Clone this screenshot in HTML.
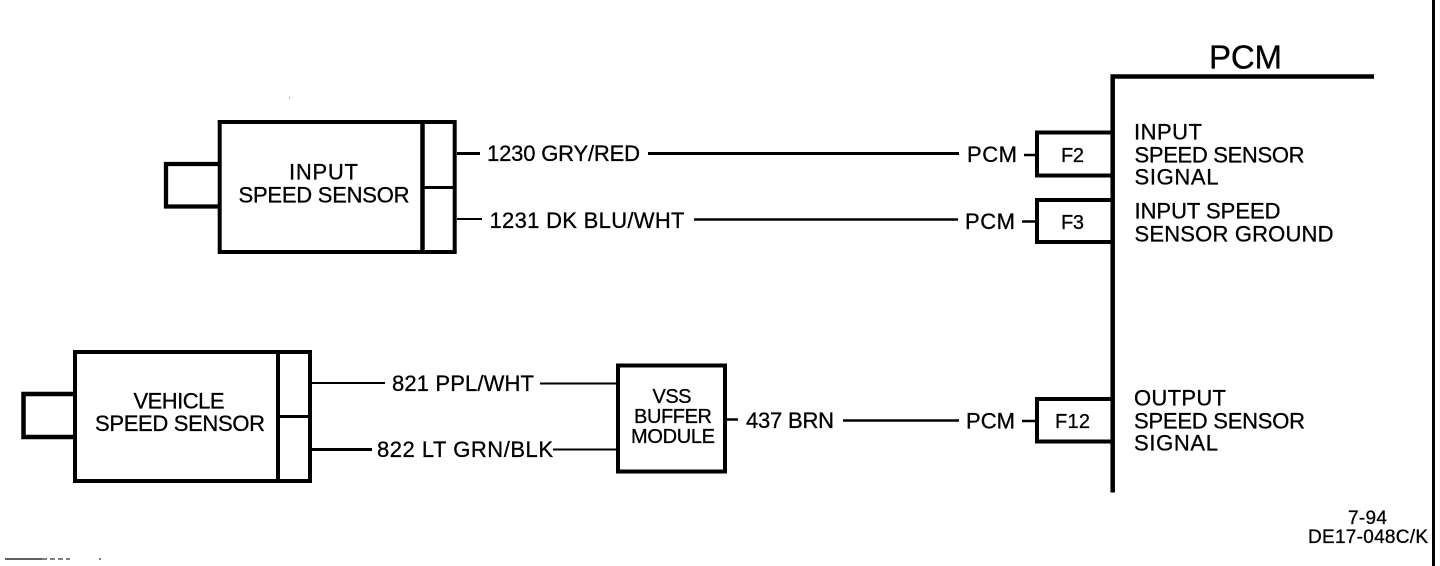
<!DOCTYPE html>
<html><head><meta charset="utf-8"><style>
html,body{margin:0;padding:0;background:#fff}
svg{display:block}
text{font-family:"Liberation Sans",sans-serif;fill:#000;font-size:22px;stroke:#000;stroke-width:.3px}
.s{font-size:20px}
.d{font-size:19px}
</style></head><body>
<svg width="1440" height="566" viewBox="0 0 1440 566" xmlns="http://www.w3.org/2000/svg">
<g fill="none" stroke="#000" stroke-width="4">
<rect x="219.700" y="122" width="235" height="130"/>
<line x1="422.500" y1="122" x2="422.500" y2="252" stroke-width="4.500"/>
<line x1="424" y1="187.500" x2="455" y2="187.500" stroke-width="3"/>
<path d="M219 164H166V206.500H219" stroke-width="4.300"/>
<rect x="75" y="352" width="235" height="129"/>
<line x1="278" y1="352" x2="278" y2="481"/>
<line x1="279" y1="416.500" x2="310" y2="416.500" stroke-width="3"/>
<path d="M75 394H23.500V437H75" stroke-width="4.500"/>
<rect x="618" y="365.500" width="107" height="106"/>
<path d="M1112 132.500H1037V175.500H1112"/>
<path d="M1112 200H1037V242H1112"/>
<path d="M1112 399H1037V441.500H1112"/>
<line x1="457" y1="153.500" x2="480" y2="153.500" stroke-width="3"/>
<line x1="648" y1="153.500" x2="959" y2="153.500" stroke-width="3"/>
<line x1="1024" y1="155" x2="1036" y2="155" stroke-width="2.500"/>
<line x1="457" y1="219" x2="482" y2="219" stroke-width="2"/>
<line x1="694" y1="219.500" x2="958" y2="219.500" stroke-width="2.500"/>
<line x1="1022" y1="221.500" x2="1036" y2="221.500" stroke-width="2.500"/>
<line x1="312" y1="383" x2="385" y2="383" stroke-width="2"/>
<line x1="540" y1="383.500" x2="617" y2="383.500" stroke-width="2"/>
<line x1="312" y1="449.500" x2="372" y2="449.500" stroke-width="3"/>
<line x1="553" y1="449.500" x2="617" y2="449.500" stroke-width="2"/>
<line x1="726" y1="419.500" x2="738" y2="419.500" stroke-width="2.500"/>
<line x1="843" y1="420.500" x2="959" y2="420.500" stroke-width="2.500"/>
<line x1="1022" y1="421" x2="1036" y2="421" stroke-width="2.500"/>
<path d="M1112.700 492.500V76.500H1374" stroke-width="4.500"/>
<line x1="1433.500" y1="0" x2="1433.500" y2="566" stroke-width="3"/>
<line x1="5" y1="559" x2="42" y2="559" stroke-width="1.200"/>
<line x1="42" y1="559" x2="70" y2="559" stroke-width="1" stroke-dasharray="5 3"/>
<line x1="99" y1="559" x2="101" y2="559" stroke-width="1"/>
<line x1="289" y1="98" x2="290" y2="98" stroke-width="1" stroke="#666"/>
</g>
<text x="1209" y="68.500" textLength="73" style="font-size:33px">PCM</text>
<text x="289" y="179.500" textLength="69">INPUT</text>
<text x="238.500" y="202.500" textLength="171">SPEED SENSOR</text>
<text x="133.500" y="408.500" textLength="91">VEHICLE</text>
<text x="95" y="431" textLength="170">SPEED SENSOR</text>
<text class="s" x="652.500" y="403" textLength="39">VSS</text>
<text class="s" x="634" y="423" textLength="78">BUFFER</text>
<text class="s" x="631" y="443" textLength="84">MODULE</text>
<text x="487" y="161" textLength="153">1230 GRY/RED</text>
<text x="489.500" y="228" textLength="195">1231 DK BLU/WHT</text>
<text x="392" y="391" textLength="142">821 PPL/WHT</text>
<text x="377" y="457" textLength="176">822 LT GRN/BLK</text>
<text x="746" y="428" textLength="88">437 BRN</text>
<text x="967" y="162" textLength="50">PCM</text>
<text x="965" y="229" textLength="50">PCM</text>
<text x="966" y="428.500" textLength="49">PCM</text>
<text class="s" x="1061" y="162" textLength="23">F2</text>
<text class="s" x="1061" y="229" textLength="23">F3</text>
<text class="s" x="1055" y="428" textLength="35">F12</text>
<text x="1134" y="139.500" textLength="68">INPUT</text>
<text x="1134.500" y="162.500" textLength="170">SPEED SENSOR</text>
<text x="1134.500" y="184.500" textLength="84">SIGNAL</text>
<text x="1134.500" y="218.500" textLength="146">INPUT SPEED</text>
<text x="1134.500" y="241.500" textLength="199">SENSOR GROUND</text>
<text x="1134" y="405.500" textLength="92">OUTPUT</text>
<text x="1134" y="428.500" textLength="171">SPEED SENSOR</text>
<text x="1134" y="450.500" textLength="84">SIGNAL</text>
<text class="d" x="1348" y="524" textLength="39">7-94</text>
<text class="d" x="1308" y="543" textLength="120">DE17-048C/K</text>
</svg>
</body></html>
